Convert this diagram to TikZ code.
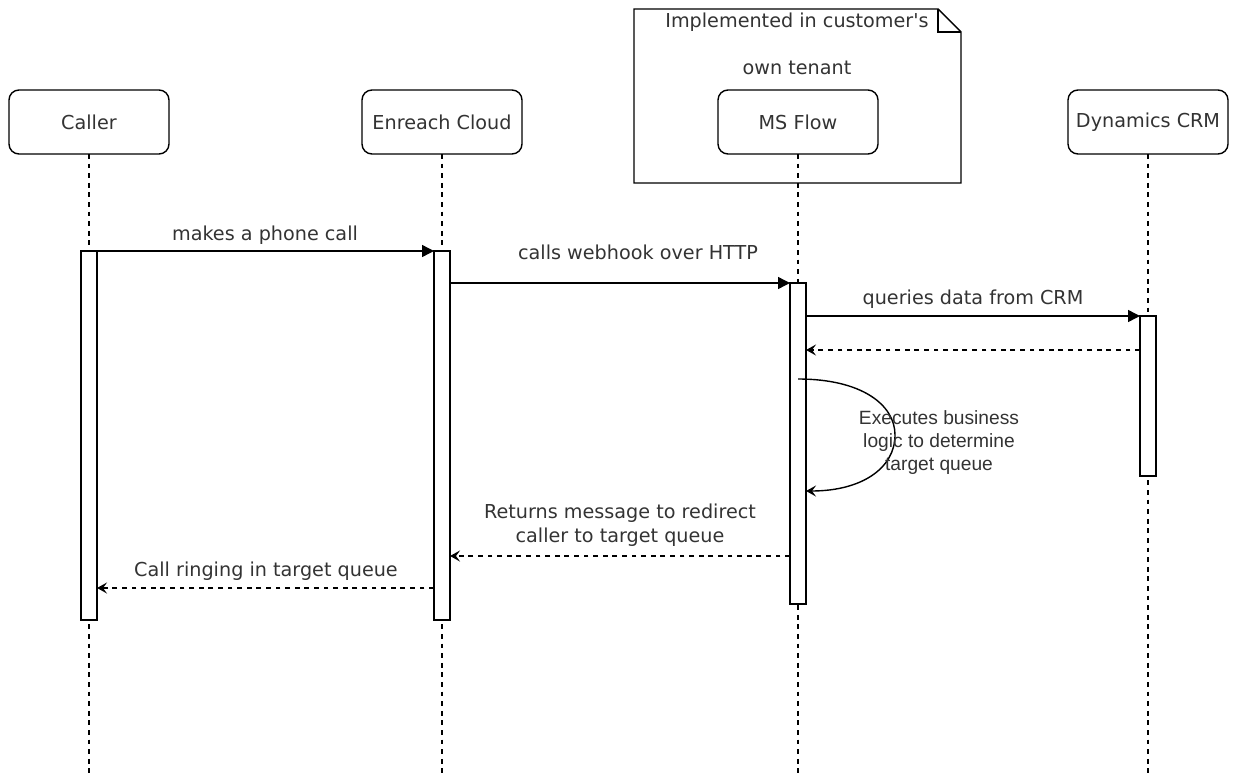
\documentclass[tikz,border=0pt]{standalone}
\usepackage{fontspec}
\setmainfont{DejaVu Sans}[Ligatures=TeXOff]
\newfontfamily\arialfont{Liberation Sans}
\usetikzlibrary{arrows.meta}
\definecolor{txt}{HTML}{333333}
\begin{document}
\begin{tikzpicture}[x=1pt,y=-1pt,
 every node/.style={font=\fontsize{19.2}{23}\selectfont, text=txt},
 actor/.style={draw, line width=1.4pt, rounded corners=10pt, fill=white, minimum width=160pt, minimum height=64pt, inner sep=0pt, outer sep=0pt},
 lifeline/.style={line width=1.2pt, dash pattern=on 4.8pt off 4.8pt},
 bar/.style={draw, line width=1.4pt, fill=white, minimum width=16pt, inner sep=0pt, outer sep=0pt},
 msg/.style={line width=1.4pt, -{Triangle[length=12pt,width=12pt]}},
 ret/.style={line width=1.4pt, dash pattern=on 4.8pt off 4.8pt, -{Stealth[length=10pt,width=11pt,inset=4pt]}},
 lbl/.style={inner sep=0pt, anchor=center}
]
\useasboundingbox (0,0) rectangle (1238,776);
% note frame
\draw[line width=1.4pt, fill=white] (634,9) -- (938,9) -- (961,32) -- (961,183) -- (634,183) -- cycle;
\draw[line width=1.4pt] (938,9) -- (938,32) -- (961,32);
\node[lbl] (note1) at (797,22) {Implemented in customer's};
\node[lbl] (note2) at (797,68) {own tenant};
% helper coordinates
\coordinate (bot) at (0,776);
\coordinate (y350) at (0,350);
\coordinate (y379) at (0,379);
\coordinate (y491) at (0,491);
\coordinate (y556) at (0,556);
\coordinate (y588) at (0,588);
% actors
\node[actor] (caller) at (89,122) {Caller};
\node[actor] (enreach) at (442,122) {Enreach Cloud};
\node[actor] (msflow) at (798,122) {MS Flow};
\node[actor] (dyn) at (1148,122) {Dynamics CRM};
% lifelines
\foreach \a in {caller,enreach,msflow,dyn}{
  \draw[lifeline] (\a.south) -- (\a.south |- bot);
}
% activation bars
\node[bar, minimum height=369pt] (cbar) at (89,435.5) {};
\node[bar, minimum height=369pt] (ebar) at (442,435.5) {};
\node[bar, minimum height=321pt] (mbar) at (798,443.5) {};
\node[bar, minimum height=160pt] (dbar) at (1148,396) {};
% messages
\draw[msg] (cbar.north east) -- (ebar.north west);
\node[lbl] (l1) at (265,235) {makes a phone call};
\draw[msg] (ebar.east |- mbar.north) -- (mbar.north west);
\node[lbl] (l2) at (638,252) {calls webhook over HTTP};
\draw[msg] (mbar.east |- dbar.north) -- (dbar.north west);
\node[lbl] (l3) at (973,299) {queries data from CRM};
\draw[ret] (dbar.west |- y350) -- (mbar.east |- y350);
% self loop
\draw[line width=1.4pt, -{Stealth[length=10pt,width=11pt,inset=4pt]}]
  (mbar.center |- y379) .. controls (862,379) and (895,405) .. (895,435)
  .. controls (895,468) and (862,491) .. (mbar.east |- y491);
\node[lbl, align=center, font=\arialfont\fontsize{19.2}{23}\selectfont] (l4) at (939,443) {Executes business\\logic to determine\\target queue};
\draw[ret] (mbar.west |- y556) -- (ebar.east |- y556);
\node[lbl, align=center, font=\fontsize{19.2}{24}\selectfont] (l5) at (620,525) {Returns message to redirect\\caller to target queue};
\draw[ret] (ebar.west |- y588) -- (cbar.east |- y588);
\node[lbl] (l6) at (266,571) {Call ringing in target queue};
\end{tikzpicture}
\end{document}
